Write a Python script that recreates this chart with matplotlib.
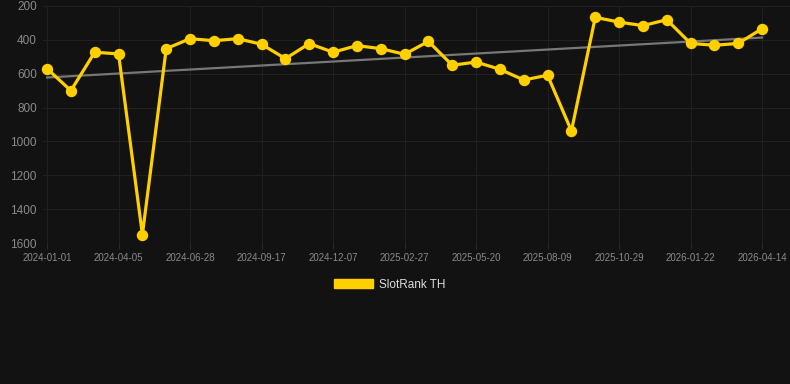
import matplotlib
matplotlib.use("Agg")
import matplotlib.pyplot as plt
import numpy as np

plt.rcParams['font.family'] = ['Liberation Sans', 'DejaVu Sans']

series_name = "SlotRank TH"
ranks = [570, 700, 473, 483, 1550, 452, 393, 405, 393, 426, 511, 422, 473, 434, 452,
         485, 409, 550, 531, 574, 637, 609, 938, 267, 295, 316, 281, 421, 432, 421, 334]
tick_labels = ["2024-01-01", "2024-04-05", "2024-06-28", "2024-09-17", "2024-12-07",
               "2025-02-27", "2025-05-20", "2025-08-09", "2025-10-29", "2026-01-22",
               "2026-04-14"]
y_ticks = [200, 400, 600, 800, 1000, 1200, 1400, 1600]

bg = "#121212"
yellow = "#FFD000"

fig = plt.figure(figsize=(7.9, 3.84), dpi=100, facecolor=bg)
ax = fig.add_axes([43/790, 1 - 243/384, 1 - 43/790, (243 - 6)/384])
ax.set_facecolor(bg)

x = np.arange(len(ranks))
coef = np.polyfit(x, ranks, 1)
ax.plot(x, np.polyval(coef, x), color="#777777", lw=1.6, zorder=2)
ax.plot(x, ranks, color=yellow, lw=2.3, marker='o', markersize=7.2, zorder=3,
        label=series_name, clip_on=False)

ax.set_ylim(1600, 200)
ax.set_xlim(-0.17, len(ranks) - 1 + 1.17)
ax.set_yticks(y_ticks)
ax.set_xticks(x[::3])
ax.set_xticklabels(tick_labels)
ax.grid(True, color="#202020", lw=0.8)
for s in ax.spines.values():
    s.set_visible(False)
ax.axhline(1600, color="#2a2a2a", lw=0.8, zorder=1)
ax.tick_params(axis='y', length=0, colors="#8a8a8a", labelsize=8.5, pad=4.5)
ax.tick_params(axis='x', length=4, color="#2a2a2a", colors="#8a8a8a", labelsize=7, pad=3)
for lab in ax.get_xticklabels():
    lab.set_color("#8a8a8a")

handle = plt.Rectangle((0, 0), 1, 1, color=yellow)
fig.legend([handle], [series_name], loc='center', bbox_to_anchor=(390/790, 1 - 284.5/384),
           frameon=False, fontsize=8.5, labelcolor="#dddddd", handlelength=3.3,
           handleheight=0.9, handletextpad=0.5)

fig.savefig("out.png", dpi=100, facecolor=bg)
